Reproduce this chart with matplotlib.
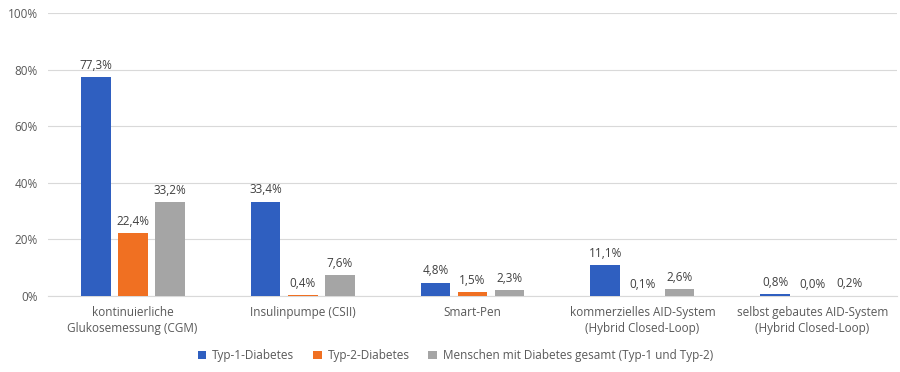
import numpy as np
import matplotlib.pyplot as plt

plt.rcParams['font.family'] = ['Open Sans', 'DejaVu Sans']

categories = ['kontinuierliche\nGlukosemessung (CGM)', 'Insulinpumpe (CSII)', 'Smart-Pen',
              'kommerzielles AID-System\n(Hybrid Closed-Loop)', 'selbst gebautes AID-System\n(Hybrid Closed-Loop)']
series_names = ['Typ-1-Diabetes', 'Typ-2-Diabetes', 'Menschen mit Diabetes gesamt (Typ-1 und Typ-2)']
typ1 = [77.3, 33.4, 4.8, 11.1, 0.8]
typ2 = [22.4, 0.4, 1.5, 0.1, 0.0]
gesamt = [33.2, 7.6, 2.3, 2.6, 0.2]
colors = ['#2F5FC0', '#F07022', '#A5A5A5']

fig = plt.figure(figsize=(9, 3.72), dpi=100)
ax = fig.add_axes([0.053, 0.204, 0.944, 0.761])

x = np.arange(len(categories))
w = 0.176
step = 0.218
fs = 8.5
for i, (vals, name) in enumerate(zip([typ1, typ2, gesamt], series_names)):
    pos = x + (i - 1) * step
    ax.bar(pos, vals, w, color=colors[i], label=name, zorder=3)
    for xp, v in zip(pos, vals):
        ax.text(xp, v + 1.8, f'{v:.1f}%'.replace('.', ','), ha='center', va='bottom',
                fontsize=fs, color='#404040')

ax.set_xlim(-0.5, len(categories) - 0.5)
ax.set_ylim(0, 100)
ax.set_yticks(range(0, 101, 20))
ax.set_yticklabels([f'{t}%' for t in range(0, 101, 20)], fontsize=fs, color='#595959')
ax.set_xticks(x)
ax.set_xticklabels(categories, fontsize=fs, color='#595959', linespacing=1.35)
ax.tick_params(length=0, pad=7)
ax.grid(axis='y', color='#D9D9D9', linewidth=0.8, zorder=0)
for s in ['top', 'right', 'left']:
    ax.spines[s].set_visible(False)
ax.spines['bottom'].set_color('#D9D9D9')

ax.legend(loc='upper center', bbox_to_anchor=(0.48, -0.15), ncol=3, frameon=False,
          fontsize=fs, handlelength=0.7, handleheight=0.7, columnspacing=1.6,
          handletextpad=0.5, labelcolor='#595959')

fig.savefig('out.png', dpi=100)
